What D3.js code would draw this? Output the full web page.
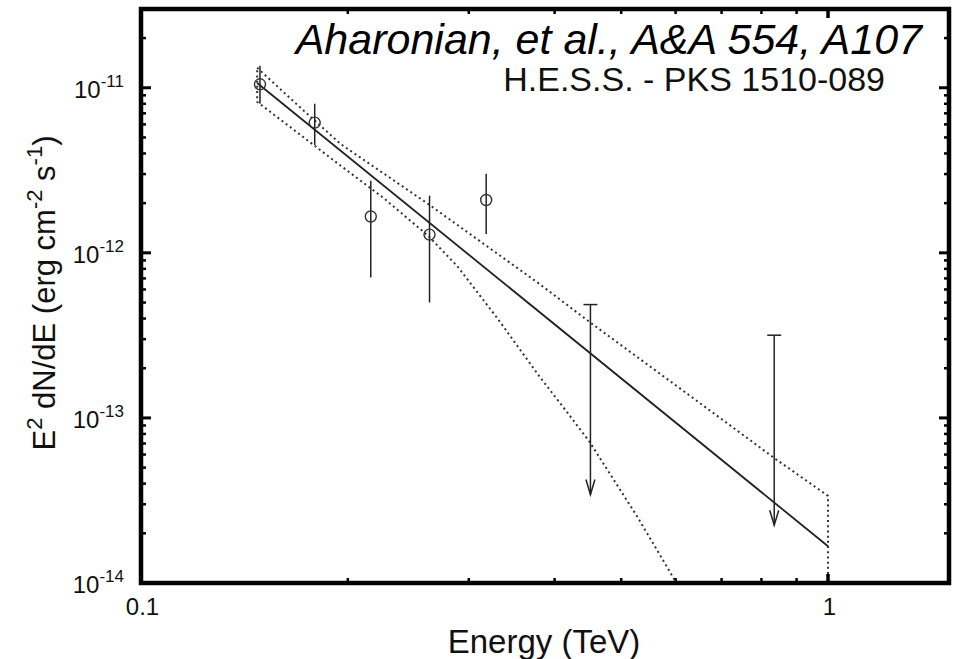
<!DOCTYPE html>
<html>
<head>
<meta charset="utf-8">
<script src="https://cdn.jsdelivr.net/npm/d3@7"></script>
<style>
  html, body { margin: 0; padding: 0; background: #fff; }
  svg { display: block; font-family: "Liberation Sans", Arial, sans-serif; }
</style>
</head>
<body>
<svg id="chart" width="953" height="659"></svg>
<script>
// H.E.S.S. spectral points of PKS 1510-089 (E in TeV, E^2 dN/dE in erg cm^-2 s^-1)
const energy = [0.149, 0.179, 0.216, 0.263, 0.318];
const flux   = [1.05e-11, 6.15e-12, 1.66e-12, 1.29e-12, 2.09e-12];
const fluxLo = [8.0e-12, 4.5e-12, 7.1e-13, 5.0e-13, 1.30e-12];
const fluxHi = [1.36e-11, 8.0e-12, 2.73e-12, 2.22e-12, 3.01e-12];

// Upper limits
const ulEnergy = [0.451, 0.835];
const ulFlux   = [4.86e-13, 3.17e-13];

// Power-law fit (end points) and its confidence band
const fitLine = [[0.1476, 1.069e-11], [1.0, 1.67e-14]];
const bandUpper = [
  [0.1476, 1.322e-11], [0.1707, 7.56e-12], [0.1953, 4.56e-12], [0.2620, 1.973e-12],
  [0.3806, 6.46e-13], [0.4509, 3.78e-13], [0.6495, 1.238e-13], [0.8397, 5.62e-14],
  [1.0, 3.37e-14]
];
const bandLower = [
  [0.1476, 8.22e-12], [0.1953, 3.37e-12], [0.2253, 2.154e-12], [0.2618, 1.268e-12],
  [0.2884, 8.34e-13], [0.3298, 4.04e-13], [0.3806, 1.772e-13], [0.4167, 1.088e-13],
  [0.4498, 7.15e-14], [0.5281, 2.51e-14], [0.6017, 1.0e-14]
];

// Axis ranges and labels
const xDomain = [0.1, 1.5];
const yDomain = [1e-14, 3e-11];
const xTickValues = [0.1, 1];
const xTickLabels = ["0.1", "1"];
const yTickValues = [1e-11, 1e-12, 1e-13, 1e-14];
const yTickExponents = ["-11", "-12", "-13", "-14"];

const svg = d3.select("#chart");
const plotLeft = 141, plotRight = 949, plotTop = 9, plotBottom = 583;

const x = d3.scaleLog().domain(xDomain).range([plotLeft, plotRight]);
const y = d3.scaleLog().domain(yDomain).range([plotBottom, plotTop]);

const ink = "#111";

// clip region for model curves
svg.append("defs").append("clipPath").attr("id", "plotClip")
  .append("rect").attr("x", plotLeft).attr("y", plotTop)
  .attr("width", plotRight - plotLeft).attr("height", plotBottom - plotTop);

const plot = svg.append("g");
const curves = plot.append("g").attr("clip-path", "url(#plotClip)");

const line = d3.line().x(d => x(d[0])).y(d => y(d[1]));

// confidence band outline (closed butterfly)
const band = bandUpper.concat([[bandUpper[bandUpper.length - 1][0], yDomain[0]]])
  .concat(bandLower.slice().reverse());
curves.append("path")
  .attr("d", line(band) + "Z")
  .attr("fill", "none")
  .attr("stroke", "#333")
  .attr("stroke-width", 2)
  .attr("stroke-dasharray", "2,3.2");

// best-fit power law
curves.append("path")
  .attr("d", line(fitLine))
  .attr("fill", "none")
  .attr("stroke", "#222")
  .attr("stroke-width", 1.8);

// error bars
const pts = energy.map((e, i) => ({ e, f: flux[i], lo: fluxLo[i], hi: fluxHi[i] }));
plot.selectAll("line.err").data(pts).join("line")
  .attr("class", "err")
  .attr("x1", d => x(d.e)).attr("x2", d => x(d.e))
  .attr("y1", d => y(d.hi)).attr("y2", d => y(d.lo))
  .attr("stroke", "#222").attr("stroke-width", 1.5);

plot.selectAll("circle.pt").data(pts).join("circle")
  .attr("class", "pt")
  .attr("cx", d => x(d.e)).attr("cy", d => y(d.f))
  .attr("r", 5.5)
  .attr("fill", "none")
  .attr("stroke", "#333").attr("stroke-width", 1.4);

// upper limits: cap, shaft and open arrow head
const arrowLen = 190, capHalf = 7, headHalf = 4.5, headLen = 15;
const uls = ulEnergy.map((e, i) => ({ e, f: ulFlux[i] }));
const ulG = plot.selectAll("g.ul").data(uls).join("g").attr("class", "ul")
  .attr("stroke", "#222").attr("stroke-width", 1.5).attr("fill", "none");
ulG.append("line")
  .attr("x1", d => x(d.e) - capHalf).attr("x2", d => x(d.e) + capHalf)
  .attr("y1", d => y(d.f)).attr("y2", d => y(d.f));
ulG.append("line")
  .attr("x1", d => x(d.e)).attr("x2", d => x(d.e))
  .attr("y1", d => y(d.f)).attr("y2", d => y(d.f) + arrowLen);
ulG.append("path")
  .attr("d", d => {
    const cx = x(d.e), ty = y(d.f) + arrowLen;
    return `M${cx - headHalf},${ty - headLen}L${cx},${ty}L${cx + headHalf},${ty - headLen}`;
  });

// frame
plot.append("rect")
  .attr("x", plotLeft).attr("y", plotTop)
  .attr("width", plotRight - plotLeft).attr("height", plotBottom - plotTop)
  .attr("fill", "none").attr("stroke", "#000").attr("stroke-width", 4.5);

// ticks on all four sides
const ticks = plot.append("g").attr("stroke", "#000");
const yMinor = y.ticks().filter(v => !yTickValues.some(t => Math.abs(t - v) / t < 1e-6));
const xMinor = x.ticks().filter(v => v > xDomain[0] * 1.01 && v < 0.99);
const majorLen = 9, minorLen = 5;

function yTicks(vals, len, w) {
  ticks.selectAll(null).data(vals).join("line")
    .attr("x1", plotLeft).attr("x2", plotLeft + len)
    .attr("y1", d => y(d)).attr("y2", d => y(d)).attr("stroke-width", w);
  ticks.selectAll(null).data(vals).join("line")
    .attr("x1", plotRight).attr("x2", plotRight - len)
    .attr("y1", d => y(d)).attr("y2", d => y(d)).attr("stroke-width", w);
}
function xTicks(vals, len, w) {
  ticks.selectAll(null).data(vals).join("line")
    .attr("x1", d => x(d)).attr("x2", d => x(d))
    .attr("y1", plotBottom).attr("y2", plotBottom - len).attr("stroke-width", w);
  ticks.selectAll(null).data(vals).join("line")
    .attr("x1", d => x(d)).attr("x2", d => x(d))
    .attr("y1", plotTop).attr("y2", plotTop + len).attr("stroke-width", w);
}
yTicks(yTickValues, majorLen + 1, 3);
yTicks(yMinor, minorLen, 2.5);
xTicks(xTickValues.filter(v => v > xDomain[0] * 1.01), majorLen, 3.5);
xTicks(xMinor, minorLen, 2.5);

// y tick labels: 10^n
const yl = plot.selectAll("text.ylab").data(yTickValues).join("text")
  .attr("class", "ylab")
  .attr("x", 124).attr("y", d => y(d) + 10)
  .attr("text-anchor", "end")
  .attr("fill", ink)
  .style("font-size", "24px");
yl.append("tspan").text("10");
yl.append("tspan").attr("dy", -11).style("font-size", "17px")
  .text((d, i) => yTickExponents[i]);

// x tick labels
plot.selectAll("text.xlab").data(xTickValues).join("text")
  .attr("class", "xlab")
  .attr("x", d => x(d) + 1.5).attr("y", 615)
  .attr("text-anchor", "middle")
  .attr("fill", ink)
  .style("font-size", "24px")
  .text((d, i) => xTickLabels[i]);

// axis titles
svg.append("text")
  .attr("x", 544).attr("y", 653)
  .attr("text-anchor", "middle")
  .attr("fill", ink)
  .style("font-size", "33px")
  .text("Energy (TeV)");

const yt = svg.append("text")
  .attr("transform", "translate(55,293) rotate(-90)")
  .attr("text-anchor", "middle")
  .attr("fill", ink)
  .style("font-size", "31px");
yt.append("tspan").text("E");
yt.append("tspan").attr("dy", -13).style("font-size", "22px").text("2");
yt.append("tspan").attr("dy", 13).text(" dN/dE (erg cm");
yt.append("tspan").attr("dy", -13).style("font-size", "22px").text("-2");
yt.append("tspan").attr("dy", 13).text(" s");
yt.append("tspan").attr("dy", -13).style("font-size", "22px").text("-1");
yt.append("tspan").attr("dy", 13).text(")");

// reference and instrument labels
svg.append("text")
  .attr("x", 922).attr("y", 54)
  .attr("text-anchor", "end")
  .attr("fill", "#000")
  .style("font-size", "43px")
  .style("font-style", "italic")
  .text("Aharonian, et al., A&A 554, A107");

svg.append("text")
  .attr("x", 885).attr("y", 91)
  .attr("text-anchor", "end")
  .attr("fill", ink)
  .style("font-size", "34px")
  .text("H.E.S.S. - PKS 1510-089");
</script>
</body>
</html>
